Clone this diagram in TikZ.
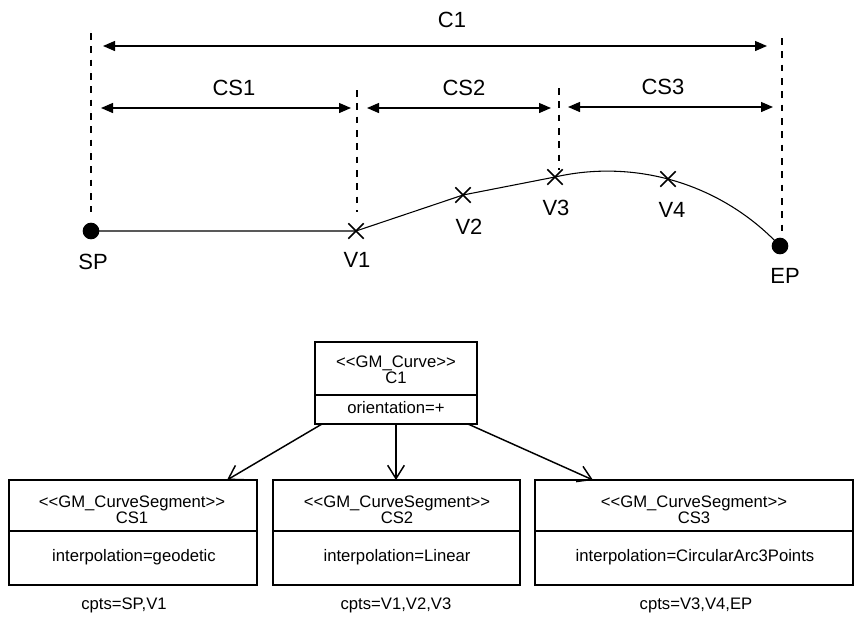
\documentclass[tikz,border=0pt]{standalone}
\usepackage{fontspec}
\setmainfont{Liberation Sans}[Ligatures=TeXOff]
\usetikzlibrary{arrows.meta,calc,shapes.misc}
\begin{document}
\begin{tikzpicture}[x=0.75pt,y=-0.75pt,
  dim/.style={line width=1pt,{Triangle[length=9pt,width=7.5pt]}-{Triangle[length=9pt,width=7.5pt]}},
  guide/.style={line width=1pt,dash pattern=on 5pt off 5pt},
  curveline/.style={line width=0.8pt},
  big/.style={font=\fontsize{16.5}{18}\selectfont,inner sep=0},
  small/.style={font=\fontsize{12.5}{12}\selectfont,align=center,inner sep=0},
  comp/.style={draw,line width=1.1pt,anchor=north west,inner sep=0,outer sep=0},
  assoc/.style={line width=1.1pt,-{Straight Barb[length=10pt,width=12.5pt]}},
  xmark/.style={cross out,draw,minimum size=10.5pt,inner sep=0,line width=1.1pt},
  dot/.style={circle,fill,inner sep=0,minimum size=12.5pt}
]
\useasboundingbox (0,0) rectangle (854,618);

% ---- geometry part ----
\node[dot] (SP) at (91,231) {};
\node[dot] (EP) at (780,246) {};
\node[xmark] (V1) at (356,231) {};
\node[xmark] (V2) at (463,195) {};
\node[xmark] (V3) at (555,177) {};
\node[xmark] (V4) at (668,179) {};

\draw[curveline] (SP.center) -- (V1.center) -- (V2.center) -- (V3.center);
\draw[curveline] plot[domain=257.2:316.9,samples=60] ({607.4+236.2*cos(\x)},{407.3+236.2*sin(\x)});

% guide lines
\coordinate (g1t) at (91,33);  \coordinate (g1b) at (91,212);
\coordinate (g2t) at (357,90); \coordinate (g2b) at (357,212);
\coordinate (g3t) at (559,88); \coordinate (g3b) at (559,170);
\coordinate (g4t) at (782,38); \coordinate (g4b) at (782,231);
\draw[guide] (g1t) -- (g1b);
\draw[guide] (g2t) -- (g2b);
\draw[guide] (g3t) -- (g3b);
\draw[guide] (g4t) -- (g4b);

% dimension arrows
\coordinate (c1a) at (103,46);  \coordinate (c1b) at (767,46);
\coordinate (s1a) at (101,108); \coordinate (s1b) at (351,108);
\coordinate (s2a) at (367,108); \coordinate (s2b) at (551,108);
\coordinate (s3a) at (568,107); \coordinate (s3b) at (773,107);
\draw[dim] (c1a) -- (c1b);
\draw[dim] (s1a) -- (s1b);
\draw[dim] (s2a) -- (s2b);
\draw[dim] (s3a) -- (s3b);

\node[big] (lC1) at (452,20) {C1};
\node[big] (lCS1) at (234,88) {CS1};
\node[big] (lCS2) at (464,88) {CS2};
\node[big] (lCS3) at (663,87) {CS3};
\node[big] (lSP) at (93,262) {SP};
\node[big] (lV1) at (357,260) {V1};
\node[big] (lV2) at (469,227) {V2};
\node[big] (lV3) at (556,208) {V3};
\node[big] (lV4) at (672,210) {V4};
\node[big] (lEP) at (785,276) {EP};

% ---- UML part ----
\node[comp,minimum width=121.5pt,minimum height=39.75pt] (c1top) at (315,342) {};
\node[comp,minimum width=121.5pt,minimum height=21.75pt] (c1bot) at (315,395) {};
\node[small] (c1t) at (396,370) {<<GM\_Curve>>\\C1};
\node[small] (c1o) at (396,408) {orientation=+};

\node[comp,minimum width=186pt,minimum height=38.25pt] (cs1top) at (9,480) {};
\node[comp,minimum width=186pt,minimum height=40.5pt] (cs1bot) at (9,531) {};
\node[comp,minimum width=185.25pt,minimum height=38.25pt] (cs2top) at (273,480) {};
\node[comp,minimum width=185.25pt,minimum height=40.5pt] (cs2bot) at (273,531) {};
\node[comp,minimum width=238.5pt,minimum height=38.25pt] (cs3top) at (535,480) {};
\node[comp,minimum width=238.5pt,minimum height=40.5pt] (cs3bot) at (535,531) {};

\node[small] (cs1t) at (132,510) {<<GM\_CurveSegment>>\\CS1};
\node[small] (cs2t) at (397,510) {<<GM\_CurveSegment>>\\CS2};
\node[small] (cs3t) at (694,510) {<<GM\_CurveSegment>>\\CS3};
\node[small] (cs1i) at (134,557) {interpolation=geodetic};
\node[small] (cs2i) at (397,557) {interpolation=Linear};
\node[small] (cs3i) at (695,557) {interpolation=CircularArc3Points};
\node[small] (cs1c) at (124,605) {cpts=SP,V1};
\node[small] (cs2c) at (396,605) {cpts=V1,V2,V3};
\node[small] (cs3c) at (696,605) {cpts=V3,V4,EP};

\draw[assoc] ($(c1bot.south west)+(7,0)$) -- ($(cs1top.north west)+(218,0)$);
\draw[assoc] (c1bot.south) -- (c1bot.south |- cs2top.north);
\draw[assoc] ($(c1bot.south east)+(-9,0)$) -- ($(cs3top.north west)+(58,0)$);
\end{tikzpicture}
\end{document}
